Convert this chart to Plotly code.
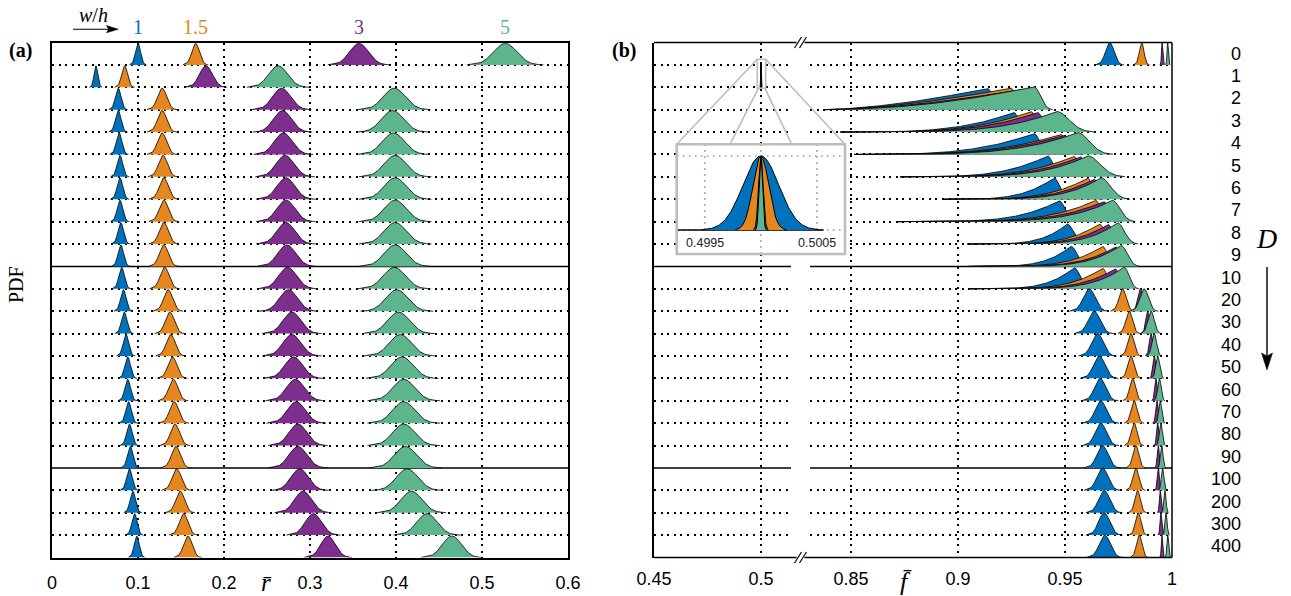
import numpy as np
import plotly.graph_objects as go

W, H = 1291, 596

# ---------------- data ----------------
D_labels = ["0", "1", "2", "3", "4", "5", "6", "7", "8", "9",
            "10", "20", "30", "40", "50", "60", "70", "80", "90",
            "100", "200", "300", "400"]
wh_labels = ["1", "1.5", "3", "5"]
colors = ["#0072BD", "#E6861E", "#7E2F8E", "#5DB58E"]

# panel (a): peak position of PDF of r-bar, one value per D row
r_mean_1 = [0.100, 0.051, 0.077, 0.077, 0.078, 0.079, 0.079, 0.079, 0.080, 0.080, 0.081, 0.083,
            0.084, 0.086, 0.088, 0.088, 0.089, 0.090, 0.091, 0.090, 0.094, 0.096, 0.0985]
r_mean_15 = [0.167, 0.0845, 0.128, 0.128, 0.128, 0.129, 0.130, 0.130, 0.130, 0.130, 0.131, 0.135,
             0.137, 0.138, 0.140, 0.141, 0.142, 0.143, 0.144, 0.145, 0.149, 0.153, 0.158]
r_mean_3 = [0.357, 0.179, 0.267, 0.268, 0.269, 0.271, 0.272, 0.272, 0.272, 0.273, 0.274, 0.275,
            0.279, 0.279, 0.281, 0.283, 0.284, 0.286, 0.286, 0.288, 0.292, 0.304, 0.321]
r_mean_5 = [0.527, 0.263, 0.398, 0.396, 0.397, 0.399, 0.399, 0.399, 0.399, 0.399, 0.398, 0.401,
            0.403, 0.405, 0.407, 0.409, 0.409, 0.409, 0.411, 0.413, 0.418, 0.436, 0.465]
# spread of each PDF
r_std_1 = [0.0030, 0.0022, 0.0033, 0.0033, 0.0033, 0.0033, 0.0033, 0.0033, 0.0033, 0.0033, 0.0033, 0.0033,
           0.0033, 0.0033, 0.0033, 0.0033, 0.0033, 0.0033, 0.0033, 0.0033, 0.0032, 0.0031, 0.0030]
r_std_15 = [0.0045, 0.0035, 0.0053, 0.0053, 0.0053, 0.0053, 0.0053, 0.0053, 0.0053, 0.0053, 0.0053, 0.0053,
            0.0053, 0.0053, 0.0053, 0.0053, 0.0053, 0.0053, 0.0053, 0.0053, 0.0052, 0.0051, 0.0050]
r_std_3 = [0.0110, 0.0075, 0.0105, 0.0105, 0.0105, 0.0105, 0.0105, 0.0105, 0.0105, 0.0105, 0.0105, 0.0105,
           0.0105, 0.0105, 0.0105, 0.0105, 0.0105, 0.0105, 0.0105, 0.0102, 0.0100, 0.0095, 0.0085]
r_std_5 = [0.0135, 0.0110, 0.0128, 0.0128, 0.0128, 0.0128, 0.0128, 0.0128, 0.0128, 0.0128, 0.0128, 0.0128,
           0.0128, 0.0128, 0.0128, 0.0128, 0.0128, 0.0128, 0.0128, 0.0125, 0.0122, 0.0118, 0.0110]
r_peak = 0.96

# panel (b): near-symmetric rows (D = 0, 1, 20 ... 400)
f_sym_rows = [0, 1, 11, 12, 13, 14, 15, 16, 17, 18, 19, 20, 21, 22]
f_mean_1 = [0.9709, 0.5, 0.9613, 0.9636, 0.9652, 0.9660, 0.9664, 0.9667, 0.9667, 0.9675, 0.9675, 0.9683, 0.9683, 0.9686]
f_mean_15 = [0.9858, 0.5, 0.9769, 0.9800, 0.9808, 0.9808, 0.9816, 0.9823, 0.9823, 0.9831, 0.9831, 0.9839, 0.9842, 0.9847]
f_mean_3 = [0.9954, 0.5, 0.9852, 0.9886, 0.9902, 0.9917, 0.9925, 0.9930, 0.9933, 0.9936, 0.9936, 0.9945, 0.9948, 0.9953]
f_mean_5 = [0.9980, 0.5, 0.9870, 0.9902, 0.9917, 0.9933, 0.9941, 0.9945, 0.9948, 0.9952, 0.9956, 0.9967, 0.9972, 0.9980]
f_std_1 = [0.0020, 0.00016, 0.0028, 0.0028, 0.0027, 0.0027, 0.0026, 0.0026, 0.0026, 0.0026, 0.0026, 0.0026, 0.0026, 0.0026]
f_std_15 = [0.0011, 0.00007, 0.0017, 0.0016, 0.0015, 0.0015, 0.0014, 0.0014, 0.0014, 0.0014, 0.0014, 0.0013, 0.0013, 0.0013]
f_std_3 = [0.0003, 0.00002, 0.0012, 0.0009, 0.0008, 0.0007, 0.0006, 0.0006, 0.0005, 0.0005, 0.0005, 0.0004, 0.0004, 0.0003]
f_std_5 = [0.0003, 0.000015, 0.0020, 0.0015, 0.0011, 0.0009, 0.0008, 0.0007, 0.0007, 0.0006, 0.0006, 0.0005, 0.0005, 0.0004]

# panel (b): left-skewed rows (D = 2 ... 10): tail start, rise exponent, peak, end, height
f_skew_rows = [2, 3, 4, 5, 6, 7, 8, 9, 10]
f_tail_start = [0.837, 0.845, 0.8514, 0.873, 0.8935, 0.8717, 0.9044, 0.905, 0.9051]
f_rise_pow = [1.6, 3.4, 3.2, 3.6, 3.8, 4.3, 4.3, 4.3, 4.3]
f_rise_factor = [1.0, 1.05, 1.1, 1.25]   # per w/h: later, steeper rise for wider channels
f_peak_1 = [0.9137, 0.9260, 0.9355, 0.9418, 0.9449, 0.9472, 0.9510, 0.9527, 0.9542]
f_peak_15 = [0.9246, 0.9340, 0.9480, 0.9540, 0.9605, 0.9643, 0.9660, 0.9675, 0.9675]
f_peak_3 = [0.9300, 0.9370, 0.9496, 0.9570, 0.9635, 0.9680, 0.9700, 0.9736, 0.9734]
f_peak_5 = [0.9355, 0.9460, 0.9558, 0.9605, 0.9667, 0.9721, 0.9745, 0.9760, 0.9776]
f_end_1 = [0.9200, 0.9320, 0.9420, 0.9480, 0.9510, 0.9540, 0.9580, 0.9600, 0.9610]
f_end_15 = [0.9300, 0.9400, 0.9540, 0.9600, 0.9660, 0.9700, 0.9720, 0.9730, 0.9730]
f_end_3 = [0.9360, 0.9440, 0.9560, 0.9630, 0.9690, 0.9740, 0.9760, 0.9780, 0.9780]
f_end_5 = [0.9425, 0.9600, 0.9690, 0.9745, 0.9776, 0.9807, 0.9822, 0.9831, 0.9831]
f_height_1 = [0.95, 0.88, 0.94, 0.94, 0.96, 0.94, 0.90, 0.90, 0.95]
f_height_15 = [0.97, 0.92, 0.90, 0.92, 0.95, 0.95, 0.90, 0.90, 0.92]
f_height_3 = [0.93, 0.88, 0.86, 0.90, 0.90, 0.90, 0.88, 0.88, 0.90]
f_height_5 = [1.03, 0.92, 0.98, 0.94, 0.96, 0.95, 0.95, 0.95, 0.97]

# zoom inset (D = 1): all four centred at 0.5
inset_mean = [0.5, 0.5, 0.5, 0.5]
inset_std = [0.00016, 0.00007, 0.00002, 0.000015]

r_ticks = [0, 0.1, 0.2, 0.3, 0.4, 0.5, 0.6]
r_ticktext = ["0", "0.1", "0.2", "0.3", "0.4", "0.5", "0.6"]
f_ticks_left = [0.45, 0.5]
f_ticktext_left = ["0.45", "0.5"]
f_ticks_right = [0.85, 0.9, 0.95, 1.0]
f_ticktext_right = ["0.85", "0.9", "0.95", "1"]
inset_ticks = [0.4995, 0.5005]
inset_ticktext = ["0.4995", "0.5005"]

# ---------------- helpers ----------------
def px(X):
    return X / W

def py(Y):
    return 1 - Y / H

NROW = len(D_labels)
DOT = "2px,4.6px"
SEP_ROWS = [10, 19]          # solid separators (below D=9 and D=90)
grid_rows = [-k for k in range(1, NROW) if k not in SEP_ROWS]


def gauss_poly(m, s, base, peak):
    xs = np.linspace(m - 3.3 * s, m + 3.3 * s, 121)
    hs = peak * np.exp(-0.5 * ((xs - m) / s) ** 2)
    x = np.concatenate([[xs[0]], xs, [xs[-1]]])
    y = np.concatenate([[base], base + hs, [base]])
    return x, y


def skew_poly(f0, fp, fe, p, hgt, base):
    # power-law rise from tail start to the peak, rounded fall to the end
    xr = np.linspace(f0, fp, 180)
    hr = hgt * ((xr - f0) / (fp - f0)) ** p
    sr = (fe - fp) / 2.4
    xf = np.linspace(fp, fp + 3.0 * sr, 40)[1:]
    hf = hgt * np.exp(-0.5 * ((xf - fp) / sr) ** 2)
    xs = np.concatenate([xr, xf])
    hs = np.concatenate([hr, hf])
    x = np.concatenate([[xs[0]], xs, [xs[-1]]])
    y = np.concatenate([[base], base + hs, [base]])
    return x, y


def pdf_trace(x, y, color, xa, ya, lw=0.8):
    return go.Scatter(x=x, y=y, mode="lines", fill="toself", fillcolor=color,
                      line=dict(color="black", width=lw), hoverinfo="skip",
                      showlegend=False, xaxis=xa, yaxis=ya)


fig = go.Figure()

# ---------------- panel (a) ----------------
r_means = [r_mean_1, r_mean_15, r_mean_3, r_mean_5]
r_stds = [r_std_1, r_std_15, r_std_3, r_std_5]
for i in range(NROW):
    base = -(i + 1)
    for s in range(4):
        x, y = gauss_poly(r_means[s][i], r_stds[s][i], base, r_peak)
        fig.add_trace(pdf_trace(x, y, colors[s], "x", "y"))

# ---------------- panel (b) ----------------
f_means = [f_mean_1, f_mean_15, f_mean_3, f_mean_5]
f_stds = [f_std_1, f_std_15, f_std_3, f_std_5]
f_peaks = [f_peak_1, f_peak_15, f_peak_3, f_peak_5]
f_ends = [f_end_1, f_end_15, f_end_3, f_end_5]
f_heights = [f_height_1, f_height_15, f_height_3, f_height_5]

for i in range(NROW):
    base = -(i + 1)
    if i in f_sym_rows:
        k = f_sym_rows.index(i)
        for s in range(4):
            m = f_means[s][k]
            xa = "x2" if m < 0.7 else "x3"
            x, y = gauss_poly(m, f_stds[s][k], base, 1.0)
            fig.add_trace(pdf_trace(x, y, colors[s], xa, "y2"))
    else:
        k = f_skew_rows.index(i)
        for s in range(4):
            x, y = skew_poly(f_tail_start[k], f_peaks[s][k], f_ends[s][k],
                             f_rise_pow[k] * f_rise_factor[s], f_heights[s][k], base)
            fig.add_trace(pdf_trace(x, y, colors[s], "x3", "y2"))

# ---------------- inset ----------------
ix0, ix1 = 0.49925, 0.50075
iy0, iy1 = -0.324, 1.158
fig.add_trace(go.Scatter(x=[ix0, ix1, ix1, ix0], y=[iy0, iy0, iy1, iy1], mode="lines",
                         fill="toself", fillcolor="white", line=dict(width=0),
                         hoverinfo="skip", showlegend=False, xaxis="x4", yaxis="y4"))
gray_line = dict(color="#ABABAB", width=1.6, dash="2px,4px")
for xv in inset_ticks:
    fig.add_trace(go.Scatter(x=[xv, xv], y=[0, iy1], mode="lines", line=gray_line,
                             hoverinfo="skip", showlegend=False, xaxis="x4", yaxis="y4"))
fig.add_trace(go.Scatter(x=[0.5, 0.5], y=[iy0, iy1], mode="lines", line=gray_line,
                         hoverinfo="skip", showlegend=False, xaxis="x4", yaxis="y4"))
for yv in [0, 1]:
    fig.add_trace(go.Scatter(x=[ix0, ix1], y=[yv, yv], mode="lines", line=gray_line,
                             hoverinfo="skip", showlegend=False, xaxis="x4", yaxis="y4"))
fig.add_trace(go.Scatter(x=[0.49926, 0.50056], y=[0, 0], mode="lines",
                         line=dict(color="black", width=1.6),
                         hoverinfo="skip", showlegend=False, xaxis="x4", yaxis="y4"))
for s in range(4):
    x, y = gauss_poly(inset_mean[s], inset_std[s], 0.0, 1.0)
    fig.add_trace(pdf_trace(x, y, colors[s], "x4", "y4", lw=1.0))

# ---------------- axes ----------------
sans = "Liberation Sans, Arial, sans-serif"
serif = "Liberation Serif, Times New Roman, serif"
tick_font = dict(family=sans, size=18, color="black")
ydom = [py(557.5), py(42.5)]
common_x = dict(showgrid=True, gridcolor="black", griddash=DOT, gridwidth=1.7,
                zeroline=False, ticks="", tickfont=tick_font, ticklabelstandoff=8,
                automargin=False)
common_y = dict(domain=ydom, range=[-NROW, 0], tickvals=grid_rows, showticklabels=False,
                showgrid=True, gridcolor="black", griddash=DOT, gridwidth=1.7,
                zeroline=False, ticks="", automargin=False)

fig.update_layout(
    template="none",
    width=W, height=H, margin=dict(l=0, r=0, t=0, b=0, pad=0, autoexpand=False),
    paper_bgcolor="white", plot_bgcolor="white", showlegend=False,
    font=dict(family=sans, color="black"),
    xaxis=dict(domain=[px(52), px(568)], range=[0, 0.6], anchor="y",
               tickvals=r_ticks, ticktext=r_ticktext,
               showline=True, mirror=True, linecolor="black", linewidth=1.5, **common_x),
    yaxis=dict(anchor="x", showline=True, mirror=True, linecolor="black", linewidth=1.5, **common_y),
    xaxis2=dict(domain=[px(654), px(791)], range=[0.45, 0.45 + 137 / 2140], anchor="y2",
                tickvals=f_ticks_left, ticktext=f_ticktext_left, showline=False, **common_x),
    xaxis3=dict(domain=[px(810), px(1172)], range=[1 - 362 / 2140, 1.0], anchor="y2",
                tickvals=f_ticks_right, ticktext=f_ticktext_right, showline=False, **common_x),
    yaxis2=dict(anchor="x2", showline=True, mirror=False, linecolor="black", linewidth=1.5, **common_y),
    xaxis4=dict(domain=[px(676.7), px(845)], range=[ix0, ix1], anchor="y4", visible=False),
    yaxis4=dict(domain=[py(254), py(144.3)], range=[iy0, iy1], anchor="x4", visible=False),
)

# ---------------- shapes ----------------
shapes = []
blk = dict(color="black", width=1.5)
for r in SEP_ROWS:
    shapes.append(dict(type="line", xref="x", yref="y", x0=0, x1=0.6, y0=-r, y1=-r, line=blk, layer="below"))
    shapes.append(dict(type="line", xref="x2 domain", yref="y2", x0=0, x1=1, y0=-r, y1=-r, line=blk, layer="below"))
    shapes.append(dict(type="line", xref="x3 domain", yref="y2", x0=0, x1=1, y0=-r, y1=-r, line=blk, layer="below"))

def pline(X0, Y0, X1, Y1, line):
    return dict(type="line", xref="paper", yref="paper", x0=px(X0), y0=py(Y0),
                x1=px(X1), y1=py(Y1), line=line, layer="above")

# panel (b) frame with axis break
for Yf in [42.5, 557.5]:
    shapes.append(pline(654, Yf, 796.5, Yf, blk))
    shapes.append(pline(804.5, Yf, 1172, Yf, blk))
    shapes.append(pline(794.5, Yf + 5.5, 801.5, Yf - 5.5, dict(color="black", width=1.2)))
    shapes.append(pline(799.5, Yf + 5.5, 806.5, Yf - 5.5, dict(color="black", width=1.2)))
shapes.append(pline(1172, 42.5, 1172, 557.5, blk))

# zoom box, connectors, inset frame
gray = dict(color="#BDBDBD", width=1.6)
shapes.append(dict(type="rect", xref="paper", yref="paper", x0=px(757.3), x1=px(765.7),
                   y0=py(88.3), y1=py(59.3), line=gray, layer="above"))
shapes.append(pline(757.3, 59.3, 676.7, 144.3, gray))
shapes.append(pline(758.3, 88.3, 730, 144.3, gray))
shapes.append(pline(765, 88.3, 791.7, 144.3, gray))
shapes.append(pline(765.7, 59.3, 845, 144.3, gray))
shapes.append(dict(type="rect", xref="paper", yref="paper", x0=px(676.7), x1=px(845),
                   y0=py(254), y1=py(144.3), line=dict(color="#BDBDBD", width=2.6), layer="above"))

# arrows (w/h and D)
shapes.append(pline(73, 29.2, 110, 29.2, dict(color="black", width=1.1)))
shapes.append(dict(type="path", xref="paper", yref="paper",
                   path=f"M {px(106.5)} {py(25.6)} L {px(118.3)} {py(29.2)} L {px(106.5)} {py(32.8)} L {px(108.5)} {py(29.2)} Z",
                   fillcolor="black", line=dict(color="black", width=0.5), layer="above"))
shapes.append(pline(1267, 267, 1267, 356, dict(color="black", width=1.4)))
shapes.append(dict(type="path", xref="paper", yref="paper",
                   path=f"M {px(1261.5)} {py(353)} L {px(1267)} {py(370)} L {px(1272.5)} {py(353)} L {px(1267)} {py(356)} Z",
                   fillcolor="black", line=dict(color="black", width=0.5), layer="above"))
fig.update_layout(shapes=shapes)

# ---------------- annotations ----------------
C = dict(showarrow=False, xanchor="center", yanchor="middle")
ann = []
for i, lab in enumerate(D_labels):
    ann.append(dict(x=px(1243), y=-(i + 0.5), xref="paper", yref="y2", text=lab,
                    showarrow=False, xanchor="right", yanchor="middle",
                    font=dict(family=sans, size=18, color="black")))
ann.append(dict(x=px(1266), y=py(238), xref="paper", yref="paper", text="<i>D</i>",
                font=dict(family=serif, size=28, color="black"), **C))
ann.append(dict(x=px(16), y=py(285), xref="paper", yref="paper", text="PDF", textangle=-90,
                font=dict(family=serif, size=20, color="black"), **C))
ann.append(dict(x=px(20), y=py(51), xref="paper", yref="paper", text="<b>(a)</b>",
                font=dict(family=serif, size=20, color="black"), **C))
ann.append(dict(x=px(623.5), y=py(51), xref="paper", yref="paper", text="<b>(b)</b>",
                font=dict(family=serif, size=20, color="black"), **C))
ann.append(dict(x=px(93), y=py(15), xref="paper", yref="paper", text="<i>w</i>/<i>h</i>",
                font=dict(family=serif, size=20, color="black"), **C))
for s in range(4):
    ann.append(dict(x=r_means[s][0], y=py(27), xref="x", yref="paper", text=wh_labels[s],
                    font=dict(family=serif, size=20, color=colors[s]), **C))
ann.append(dict(x=px(266), y=py(582), xref="paper", yref="paper", text="<i>r\u0304</i>",
                font=dict(family=serif, size=25, color="black"), **C))
ann.append(dict(x=px(906), y=py(581), xref="paper", yref="paper", text="<i>f\u0304</i>",
                font=dict(family=serif, size=26, color="black"), **C))
for xv, tt in zip(inset_ticks, inset_ticktext):
    ann.append(dict(x=xv, y=py(243), xref="x4", yref="paper", text=tt,
                    font=dict(family=sans, size=12.5, color="#222222"), **C))
fig.update_layout(annotations=ann)

fig.write_html("out.html")
